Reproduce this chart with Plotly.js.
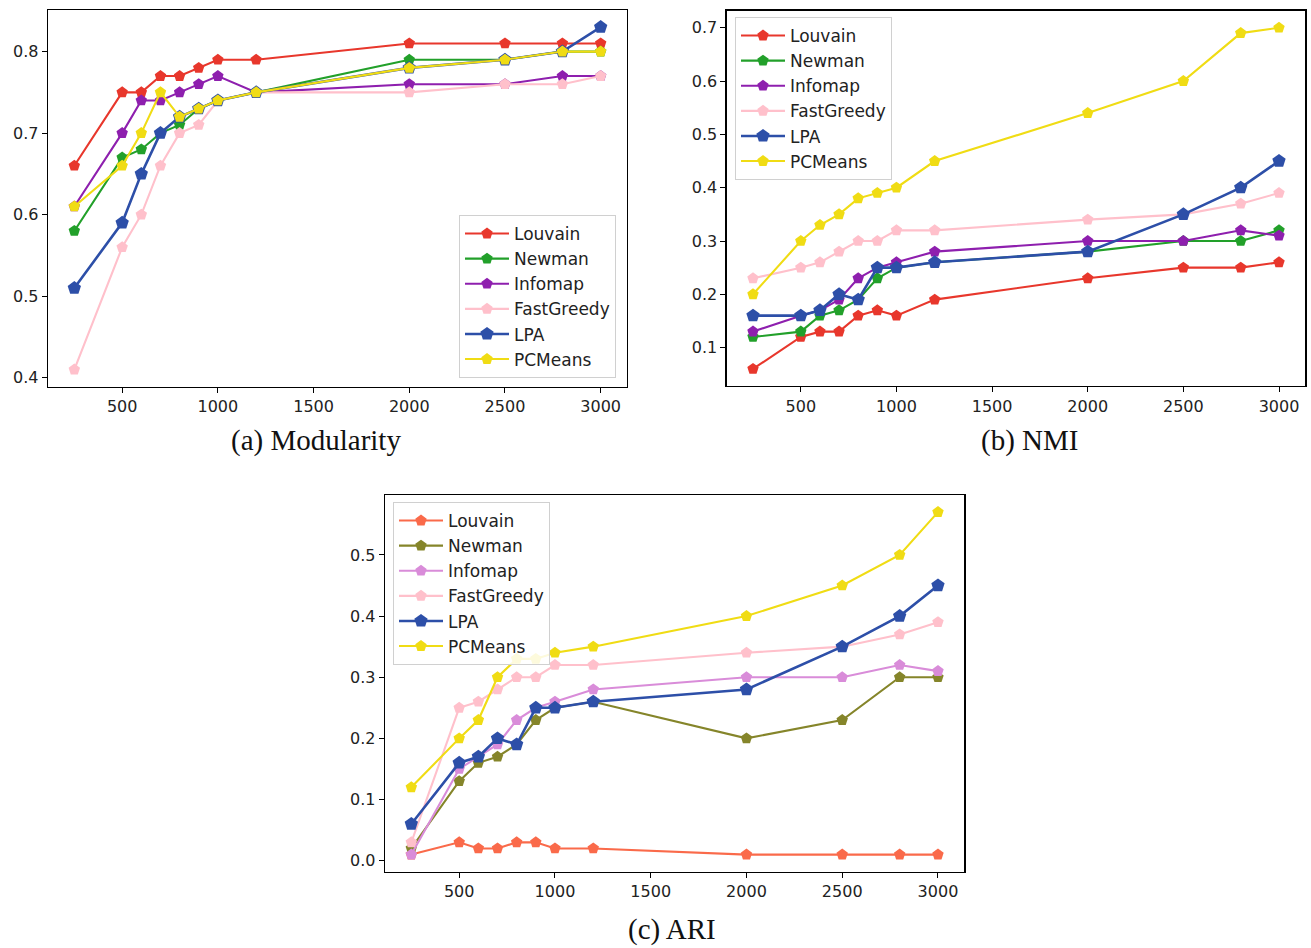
<!DOCTYPE html>
<html>
<head>
<meta charset="utf-8">
<script src="https://cdn.plot.ly/plotly-3.0.1.min.js"></script>
<style>html,body{margin:0;padding:0;background:#fff;}#chart{width:1311px;height:948px;}</style>
</head>
<body>
<div id="chart"></div>
<script>
// ---- data ----
const nodes = [250, 500, 600, 700, 800, 900, 1000, 1200, 2000, 2500, 2800, 3000];
const methods = ["Louvain", "Newman", "Infomap", "FastGreedy", "LPA", "PCMeans"];

// (a) Modularity
const modLouvain    = [0.66, 0.75, 0.75, 0.77, 0.77, 0.78, 0.79, 0.79, 0.81, 0.81, 0.81, 0.81];
const modNewman     = [0.58, 0.67, 0.68, 0.70, 0.71, 0.73, 0.74, 0.75, 0.79, 0.79, 0.80, 0.80];
const modInfomap    = [0.61, 0.70, 0.74, 0.74, 0.75, 0.76, 0.77, 0.75, 0.76, 0.76, 0.77, 0.77];
const modFastGreedy = [0.41, 0.56, 0.60, 0.66, 0.70, 0.71, 0.74, 0.75, 0.75, 0.76, 0.76, 0.77];
const modLPA        = [0.51, 0.59, 0.65, 0.70, 0.72, 0.73, 0.74, 0.75, 0.78, 0.79, 0.80, 0.83];
const modPCMeans    = [0.61, 0.66, 0.70, 0.75, 0.72, 0.73, 0.74, 0.75, 0.78, 0.79, 0.80, 0.80];

// (b) NMI
const nmiLouvain    = [0.06, 0.12, 0.13, 0.13, 0.16, 0.17, 0.16, 0.19, 0.23, 0.25, 0.25, 0.26];
const nmiNewman     = [0.12, 0.13, 0.16, 0.17, 0.19, 0.23, 0.25, 0.26, 0.28, 0.30, 0.30, 0.32];
const nmiInfomap    = [0.13, 0.16, 0.17, 0.19, 0.23, 0.25, 0.26, 0.28, 0.30, 0.30, 0.32, 0.31];
const nmiFastGreedy = [0.23, 0.25, 0.26, 0.28, 0.30, 0.30, 0.32, 0.32, 0.34, 0.35, 0.37, 0.39];
const nmiLPA        = [0.16, 0.16, 0.17, 0.20, 0.19, 0.25, 0.25, 0.26, 0.28, 0.35, 0.40, 0.45];
const nmiPCMeans    = [0.20, 0.30, 0.33, 0.35, 0.38, 0.39, 0.40, 0.45, 0.54, 0.60, 0.69, 0.70];

// (c) ARI
const ariLouvain    = [0.01, 0.03, 0.02, 0.02, 0.03, 0.03, 0.02, 0.02, 0.01, 0.01, 0.01, 0.01];
const ariNewman     = [0.02, 0.13, 0.16, 0.17, 0.19, 0.23, 0.25, 0.26, 0.20, 0.23, 0.30, 0.30];
const ariInfomap    = [0.01, 0.15, 0.17, 0.19, 0.23, 0.25, 0.26, 0.28, 0.30, 0.30, 0.32, 0.31];
const ariFastGreedy = [0.03, 0.25, 0.26, 0.28, 0.30, 0.30, 0.32, 0.32, 0.34, 0.35, 0.37, 0.39];
const ariLPA        = [0.06, 0.16, 0.17, 0.20, 0.19, 0.25, 0.25, 0.26, 0.28, 0.35, 0.40, 0.45];
const ariPCMeans    = [0.12, 0.20, 0.23, 0.30, 0.33, 0.33, 0.34, 0.35, 0.40, 0.45, 0.50, 0.57];

const xTicks = [500, 1000, 1500, 2000, 2500, 3000];
const captions = ["(a) Modularity", "(b) NMI", "(c) ARI"];

// ---- styles ----
const colorsAB = ["#e8372c", "#22a02a", "#8e1fae", "#ffc0cb", "#2d4fa8", "#f0dc14"];
const colorsC  = ["#fa6a4a", "#85852a", "#d98cd9", "#ffc0cb", "#2d4fa8", "#f0dc14"];

const panels = [
  {data: [modLouvain, modNewman, modInfomap, modFastGreedy, modLPA, modPCMeans], colors: colorsAB, xa: "x", ya: "y", leg: "legend"},
  {data: [nmiLouvain, nmiNewman, nmiInfomap, nmiFastGreedy, nmiLPA, nmiPCMeans], colors: colorsAB, xa: "x2", ya: "y2", leg: "legend2"},
  {data: [ariLouvain, ariNewman, ariInfomap, ariFastGreedy, ariLPA, ariPCMeans], colors: colorsC, xa: "x3", ya: "y3", leg: "legend3"}
];

const traces = [];
panels.forEach(p => {
  p.data.forEach((vals, i) => {
    const isLPA = methods[i] === "LPA";
    traces.push({
      type: "scatter", mode: "lines+markers",
      x: nodes, y: vals, name: methods[i],
      xaxis: p.xa, yaxis: p.ya, legend: p.leg,
      line: {color: p.colors[i], width: isLPA ? 2.6 : 2.1},
      marker: {symbol: "pentagon", size: isLPA ? 14 : 12, color: p.colors[i]}
    });
  });
});

const W = 1311, H = 948;
const fx = v => v / W;
const fy = v => 1 - v / H;
const tickFont = {family: "DejaVu Sans, sans-serif", size: 16, color: "#222"};

function xax(l, r, anchor) {
  return {domain: [fx(l), fx(r)], range: [112.5, 3137.5], anchor: anchor,
    tickvals: xTicks, ticks: "outside", ticklen: 5, tickcolor: "#000",
    showline: true, mirror: true, linecolor: "#000", linewidth: 1.3,
    showgrid: false, zeroline: false, tickfont: tickFont};
}
function yax(t, b, range, tickvals, anchor) {
  return {domain: [fy(b), fy(t)], range: range, anchor: anchor,
    tickvals: tickvals, tickformat: ".1f", ticks: "outside", ticklen: 5, tickcolor: "#000",
    showline: true, mirror: true, linecolor: "#000", linewidth: 1.3,
    showgrid: false, zeroline: false, tickfont: tickFont};
}
function leg(xl, yt) {
  return {x: fx(xl), y: fy(yt), xanchor: "left", yanchor: "top",
    bgcolor: "rgba(255,255,255,0.85)", bordercolor: "#d0d0d0", borderwidth: 1,
    font: {family: "DejaVu Sans, sans-serif", size: 17, color: "#222"},
    tracegroupgap: 0, itemwidth: 44};
}

const capFont = {family: "Liberation Serif, DejaVu Serif, serif", size: 29, color: "#111"};

const layout = {
  width: W, height: H,
  margin: {l: 0, r: 0, t: 0, b: 0},
  paper_bgcolor: "#fff", plot_bgcolor: "#fff",
  showlegend: true,
  xaxis: xax(48, 627, "y"),
  yaxis: yax(10, 386.7, [0.389, 0.851], [0.4, 0.5, 0.6, 0.7, 0.8], "x"),
  xaxis2: xax(726.7, 1305.3, "y2"),
  yaxis2: yax(10.7, 386, [0.028, 0.732], [0.1, 0.2, 0.3, 0.4, 0.5, 0.6, 0.7], "x2"),
  xaxis3: xax(385, 964.3, "y3"),
  yaxis3: yax(495, 871.7, [-0.018, 0.598], [0.0, 0.1, 0.2, 0.3, 0.4, 0.5], "x3"),
  legend: leg(459, 215),
  legend2: leg(735, 17),
  legend3: leg(393, 502),
  annotations: [
    {text: captions[0], xref: "paper", yref: "paper", x: fx(316), y: fy(440), xanchor: "center", yanchor: "middle", showarrow: false, font: capFont},
    {text: captions[1], xref: "paper", yref: "paper", x: fx(1029), y: fy(440), xanchor: "center", yanchor: "middle", showarrow: false, font: capFont},
    {text: captions[2], xref: "paper", yref: "paper", x: fx(672), y: fy(929), xanchor: "center", yanchor: "middle", showarrow: false, font: capFont}
  ]
};

Plotly.newPlot("chart", traces, layout, {displayModeBar: false, staticPlot: true});
</script>
</body>
</html>
